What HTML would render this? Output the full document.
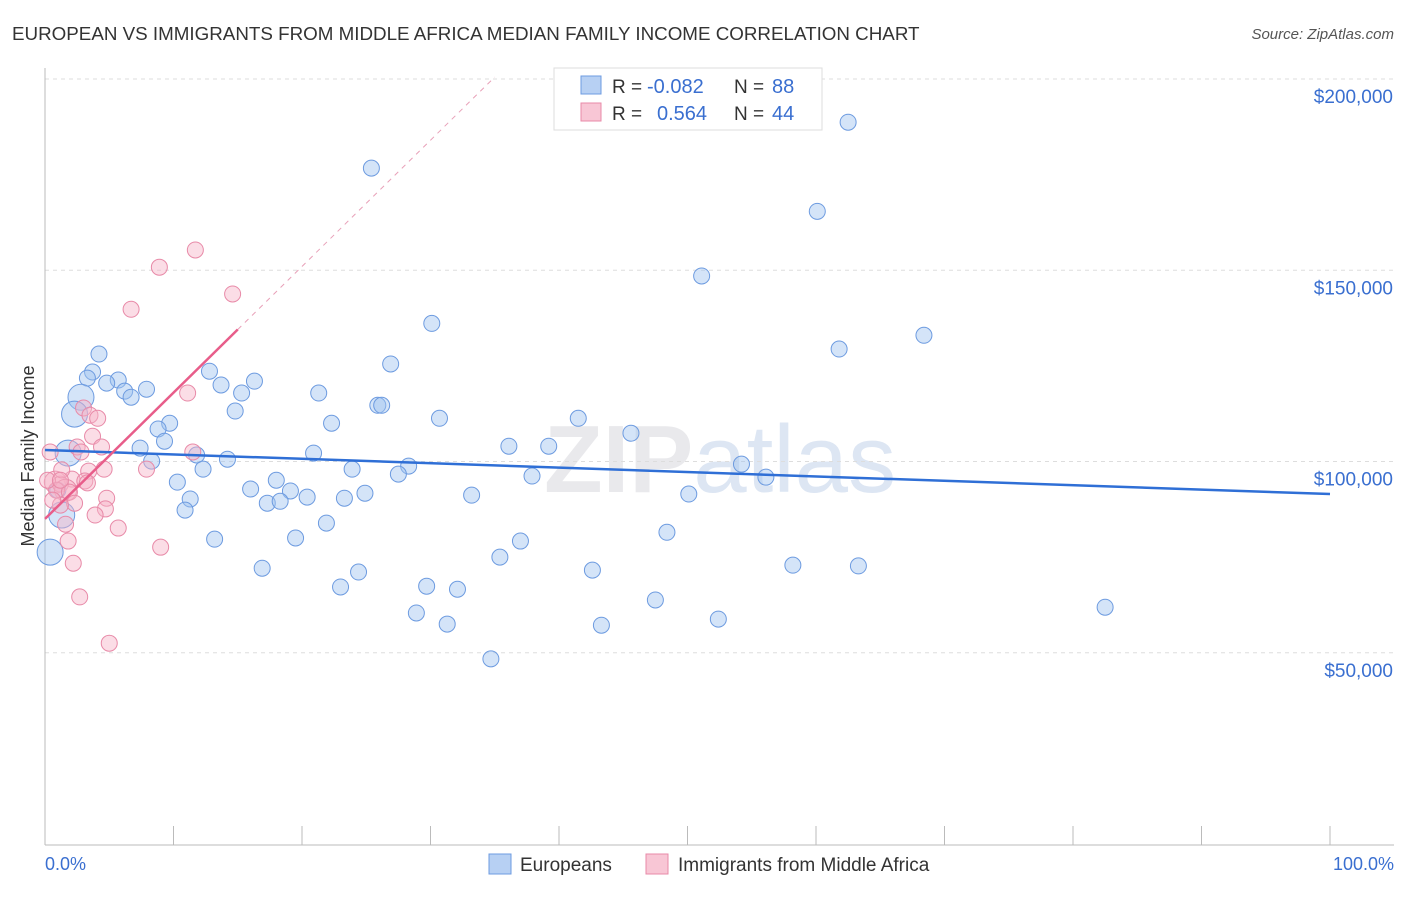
<!DOCTYPE html>
<html><head><meta charset="utf-8"><style>
body{margin:0;background:#fff;font-family:"Liberation Sans",sans-serif;}
svg text{font-family:"Liberation Sans",sans-serif;}
</style></head><body>
<svg id="chart" width="1406" height="892" viewBox="0 0 1406 892">
<text x="12" y="40" font-size="18.8" fill="#333">EUROPEAN VS IMMIGRANTS FROM MIDDLE AFRICA MEDIAN FAMILY INCOME CORRELATION CHART</text>
<text x="1394" y="39" font-size="15" fill="#555" text-anchor="end" font-style="italic">Source: ZipAtlas.com</text>
<text x="720" y="492" font-size="96" fill="#e9e9ec" text-anchor="middle" font-weight="bold" font-family="Liberation Serif">ZIP<tspan fill="#dde6f3" font-family="Liberation Sans" font-weight="normal">atlas</tspan></text>
<g id="grid"></g>
<g id="axes"></g>
<g id="trend"></g>
<g id="points"></g>
<text transform="translate(34,456) rotate(-90)" font-size="18" fill="#333" text-anchor="middle">Median Family Income</text>
<text x="45" y="870" font-size="18" fill="#3a6fd0">0.0%</text>
<text x="1394" y="870" font-size="18" fill="#3a6fd0" text-anchor="end">100.0%</text>
<g>
<rect x="554" y="68" width="268" height="62" fill="#fff" stroke="#ddd"/>
<rect x="581" y="76" width="20" height="18" fill="#b7d0f3" stroke="#6d9be0"/>
<rect x="581" y="103" width="20" height="18" fill="#f8c6d5" stroke="#e88aa8"/>
<text x="612" y="93" font-size="19" fill="#333">R =</text>
<text x="647" y="93" font-size="20" fill="#3a6fd0">-0.082</text>
<text x="734" y="93" font-size="19" fill="#333">N =</text>
<text x="772" y="93" font-size="20" fill="#3a6fd0">88</text>
<text x="612" y="120" font-size="19" fill="#333">R =</text>
<text x="657" y="120" font-size="20" fill="#3a6fd0">0.564</text>
<text x="734" y="120" font-size="19" fill="#333">N =</text>
<text x="772" y="120" font-size="20" fill="#3a6fd0">44</text>
</g>
<g>
<rect x="489" y="854" width="22" height="20" fill="#b7d0f3" stroke="#6d9be0"/>
<text x="520" y="871" font-size="19" fill="#333">Europeans</text>
<rect x="646" y="854" width="22" height="20" fill="#f8c6d5" stroke="#e88aa8"/>
<text x="678" y="871" font-size="19" fill="#333">Immigrants from Middle Africa</text>
</g>
</svg>
<script>
const yTicks=[50000,100000,150000,200000];
const yTickLabels=["$50,000","$100,000","$150,000","$200,000"];
const xTicks=[0,10,20,30,40,50,60,70,80,90,100];
const blueX=[62.5,25.4,60.1,51.1,30.1,68.4,61.8,4.2,26.9,3.7,3.3,5.7,4.8,7.9,6.2,6.7,2.8,12.8,13.7,16.3,15.3,21.3,25.9,26.2,14.8,2.3,30.7,41.5,9.7,8.8,22.3,45.6,9.3,7.4,36.1,39.2,20.9,1.8,8.3,11.8,14.2,54.2,23.9,28.3,27.5,12.3,37.9,56.1,18.0,10.3,16.0,19.1,33.2,50.1,20.4,23.3,24.9,11.3,17.3,18.3,10.9,21.9,48.4,13.2,19.5,37.0,0.4,35.4,16.9,58.2,63.3,42.6,24.4,29.7,23.0,32.1,47.5,82.5,28.9,52.4,31.3,43.3,34.7,1.3,1.0];
const blueY=[188.7,176.7,165.4,148.5,136.1,133.0,129.4,128.1,125.5,123.4,121.8,121.3,120.5,118.9,118.4,116.8,116.8,123.6,120.0,121.0,117.9,117.9,114.7,114.7,113.2,112.4,111.3,111.3,110.0,108.5,110.0,107.4,105.3,103.5,104.0,104.0,102.2,102.2,100.1,101.7,100.6,99.3,98.0,98.8,96.7,98.0,96.2,95.9,95.1,94.6,92.8,92.3,91.2,91.5,90.7,90.4,91.7,90.2,89.1,89.6,87.3,83.9,81.5,79.7,80.0,79.2,76.3,75.0,72.1,72.9,72.7,71.6,71.1,67.4,67.2,66.6,63.8,61.9,60.4,58.8,57.5,57.2,48.4,86.0,92.5];
const blueBig=[16,25,37,66,83];
const pinkX=[11.7,8.9,14.6,6.7,11.1,3.0,3.5,4.1,3.7,4.4,2.5,2.8,11.5,7.9,4.6,3.4,2.1,3.1,0.8,1.2,1.6,0.9,1.9,4.8,2.3,1.2,4.7,3.9,1.6,5.7,1.8,9.0,2.2,2.7,5.0,0.4,0.2,1.3,0.6,3.3,1.2];
const pinkY=[155.3,150.8,143.8,139.8,117.9,114.0,112.1,111.3,106.6,103.8,103.8,102.5,102.5,98.0,98.0,97.5,95.4,94.9,94.6,94.1,92.5,92.5,92.0,90.4,89.1,88.6,87.6,86.0,83.6,82.6,79.2,77.6,73.4,64.6,52.5,102.5,95.1,97.8,89.9,94.4,95.1];
const pinkBig=[18,20];
const blueTrendX=[0,100], blueTrendY=[103.0,91.5];
const pinkTrendX=[0,15], pinkTrendY=[85.0,134.5];
const pinkDashX=[15,35], pinkDashY=[134.5,200.5];

const NS="http://www.w3.org/2000/svg";
const X0=45,X1=1330,Y0=844,Y200=79;
const sx=v=>X0+(X1-X0)*v/100;
const sy=v=>Y0-(Y0-Y200)*v/200000;
const syk=v=>sy(v*1000);
function mk(tag,attrs,parent){const e=document.createElementNS(NS,tag);for(const k in attrs)e.setAttribute(k,attrs[k]);parent.appendChild(e);return e;}
const grid=document.getElementById('grid'),axes=document.getElementById('axes'),trend=document.getElementById('trend'),pts=document.getElementById('points');
yTicks.forEach((t,i)=>{
 const l=mk('line',{x1:45,x2:1394,y1:sy(t),y2:sy(t),stroke:'#ddd','stroke-dasharray':'4,4'},grid);
 
 
 const tx=mk('text',{x:1393,y:sy(t)+24,'font-size':19,fill:'#3a6fd0','text-anchor':'end'},grid);
 tx.textContent=yTickLabels[i];
 
 
});
const ax=mk('line',{x1:45,x2:1394,y1:845,y2:845,stroke:'#bbb'},axes);


const ay=mk('line',{x1:45,x2:45,y1:68,y2:845,stroke:'#bbb'},axes);


xTicks.forEach(t=>{
 const l=mk('line',{x1:sx(t),x2:sx(t),y1:826,y2:845,stroke:'#bbb'},axes);
 
 
});
const dl=mk('line',{x1:sx(pinkDashX[0]),y1:syk(pinkDashY[0]),x2:sx(pinkDashX[1]),y2:syk(pinkDashY[1]),stroke:'#e8a0b8','stroke-dasharray':'5,5','stroke-width':1},trend);


blueX.forEach((v,i)=>{
 const c=mk('circle',{cx:sx(v),cy:syk(blueY[i]),r:blueBig.includes(i)?13:8,fill:'rgba(160,195,240,0.45)',stroke:'#6d9be0','stroke-width':1},pts);
 
 
});
pinkX.forEach((v,i)=>{
 const c=mk('circle',{cx:sx(v),cy:syk(pinkY[i]),r:pinkBig.includes(i)?11:8,fill:'rgba(246,180,200,0.45)',stroke:'#e88aa8','stroke-width':1},pts);
 
 
});
const bl=mk('line',{x1:sx(blueTrendX[0]),y1:syk(blueTrendY[0]),x2:sx(blueTrendX[1]),y2:syk(blueTrendY[1]),stroke:'#2f6fd6','stroke-width':2.5},pts);


const pl=mk('line',{x1:sx(pinkTrendX[0]),y1:syk(pinkTrendY[0]),x2:sx(pinkTrendX[1]),y2:syk(pinkTrendY[1]),stroke:'#e85d8a','stroke-width':2.5},pts);


</script>
</body></html>
